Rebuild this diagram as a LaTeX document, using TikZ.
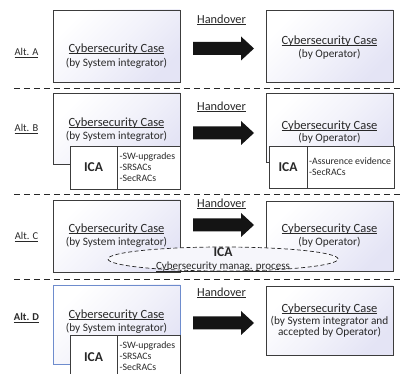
\documentclass[tikz,border=0pt]{standalone}
\usepackage{fontspec}
\setmainfont{Carlito}
\usetikzlibrary{shapes.geometric}
\definecolor{lav}{RGB}{228,228,245}
\definecolor{boxline}{RGB}{60,60,60}
\definecolor{txt}{RGB}{40,40,40}
\definecolor{blueline}{RGB}{110,140,205}
\definecolor{ellfill}{RGB}{246,246,251}
\newcommand\myul[1]{\setbox0\hbox{#1}\rlap{\rule[-1.6pt]{\wd0}{0.6pt}}\box0}
\begin{document}
\begin{tikzpicture}[x=1pt,y=-1pt,
  case/.style={draw=boxline, line width=0.8pt, top color=white, bottom color=lav, middle color=lav!45, shading angle=45, minimum width=127, inner sep=0},
  icab/.style={draw=boxline, line width=0.8pt, fill=white, inner sep=0, font=\fontsize{13.5}{15}\selectfont\bfseries, text=txt},
  title/.style={font=\fontsize{12.5}{14}\selectfont, text=txt, inner sep=0},
  sub/.style={font=\fontsize{11.3}{12}\selectfont, text=txt, inner sep=0, align=center},
  hand/.style={font=\fontsize{12.3}{14}\selectfont, text=txt, inner sep=0},
  alt/.style={font=\fontsize{10.5}{12}\selectfont, text=txt, inner sep=0},
  listtxt/.style={font=\fontsize{9.8}{11}\selectfont, text=txt, inner sep=0, align=left, anchor=west},
  sep/.style={draw=black!85, line width=0.8pt, dash pattern=on 6pt off 4pt},
  bigarrow/.pic={\fill[black!92] (-30.5,-6.5) -- (17.5,-6.5) -- (17.5,-12) -- (30.5,0) -- (17.5,12) -- (17.5,6.5) -- (-30.5,6.5) -- cycle;}
]
\useasboundingbox (0,0) rectangle (402,374);
\fill[white] (0,0) rectangle (402,374);

% ---------- Alt. A ----------
\node[case, minimum height=72] (a1) at (116.5,46) {};
\node[case, minimum height=72] (a2) at (329.5,46) {};
\node[title] (a1t) at (116.5,49) {\myul{Cybersecurity Case}};
\node[sub] (a1s) at (116.5,63) {(by System integrator)};
\node[title] (a2t) at (329.5,41) {\myul{Cybersecurity Case}};
\node[sub] (a2s) at (329.5,54) {(by Operator)};
\node[hand] (ha) at (221.5,20) {\myul{Handover}};
\coordinate (arA) at (223.5,48.5);
\pic at (arA) {bigarrow};
\node[alt] (la) at (26.5,53) {\myul{Alt. A}};
\coordinate (s1a) at (14,88); \coordinate (s1b) at (402,88);
\draw[sep] (s1a) -- (s1b);

% ---------- Alt. B ----------
\node[case, minimum height=71] (b1) at (116.5,128.5) {};
\node[case, minimum height=69] (b2) at (329.5,127.5) {};
\node[title] (b1t) at (116.5,123) {\myul{Cybersecurity Case}};
\node[sub] (b1s) at (116.5,136) {(by System integrator)};
\node[title] (b2t) at (329.5,126) {\myul{Cybersecurity Case}};
\node[sub] (b2s) at (329.5,138.5) {(by Operator)};
\node[icab, minimum width=47, minimum height=43] (bi1) at (93.5,167.5) {ICA};
\node[icab, minimum width=63, minimum height=43] (bl1) at (148.5,167.5) {};
\node[listtxt] (bt1) at (119.5,167.5) {-SW-upgrades\\-SRSACs\\-SecRACs};
\node[icab, minimum width=38, minimum height=42] (bi2) at (288,167) {ICA};
\node[icab, minimum width=87, minimum height=42] (bl2) at (350.5,167) {};
\node[listtxt] (bt2) at (309,167) {-Assurence evidence\\-SecRACs};
\node[hand] (hb) at (221.5,107) {\myul{Handover}};
\coordinate (arB) at (223.5,133);
\pic at (arB) {bigarrow};
\node[alt] (lb) at (26.5,129) {\myul{Alt. B}};
\coordinate (s2a) at (14,194); \coordinate (s2b) at (402,194);
\draw[sep] (s2a) -- (s2b);

% ---------- Alt. C ----------
\node[case, minimum height=72] (c1) at (116.5,236) {};
\node[case, minimum height=70] (c2) at (329.5,236) {};
\node[draw=black!85, line width=0.7pt, dash pattern=on 4pt off 2.5pt, ellipse, fill=ellfill, minimum width=230, minimum height=24, inner sep=0] (ce) at (223,259) {};
\node[title] (c1t) at (116.5,229) {\myul{Cybersecurity Case}};
\node[sub] (c1s) at (116.5,242) {(by System integrator)};
\node[title] (c2t) at (329.5,229) {\myul{Cybersecurity Case}};
\node[sub] (c2s) at (329.5,242) {(by Operator)};
\node[font=\fontsize{13.5}{15}\selectfont\bfseries, text=txt, inner sep=0] (cica) at (223,252) {ICA};
\node[sub, font=\fontsize{11}{12}\selectfont] (cman) at (223,267) {\myul{Cybersecurity manag. process}};
\node[hand] (hc) at (221.5,204) {\myul{Handover}};
\coordinate (arC) at (223.5,225);
\pic at (arC) {bigarrow};
\node[alt] (lc) at (26.5,237) {\myul{Alt. C}};
\coordinate (s3a) at (14,279); \coordinate (s3b) at (402,279);
\draw[sep] (s3a) -- (s3b);

% ---------- Alt. D ----------
\node[case, draw=blueline, minimum height=79] (d1) at (116.5,324.5) {};
\node[case, minimum height=69] (d2) at (329.5,320.5) {};
\node[title] (d1t) at (116.5,315) {\myul{Cybersecurity Case}};
\node[sub] (d1s) at (116.5,328) {(by System integrator)};
\node[title] (d2t) at (329.5,309) {\myul{Cybersecurity Case}};
\node[sub, font=\fontsize{11.3}{11.5}\selectfont] (d2s) at (329.5,327) {(by System integrator and\\accepted by Operator)};
\node[icab, minimum width=47, minimum height=45] (di1) at (93.5,357.5) {ICA};
\node[icab, minimum width=63, minimum height=45] (dl1) at (148.5,357.5) {};
\node[listtxt] (dt1) at (119.5,356) {-SW-upgrades\\-SRSACs\\-SecRACs};
\node[hand] (hd) at (221.5,293) {\myul{Handover}};
\coordinate (arD) at (223.5,323);
\pic at (arD) {bigarrow};
\node[alt, font=\fontsize{10.5}{12}\selectfont\bfseries] (ld) at (26.5,318) {\myul{Alt. D}};
\end{tikzpicture}
\end{document}
